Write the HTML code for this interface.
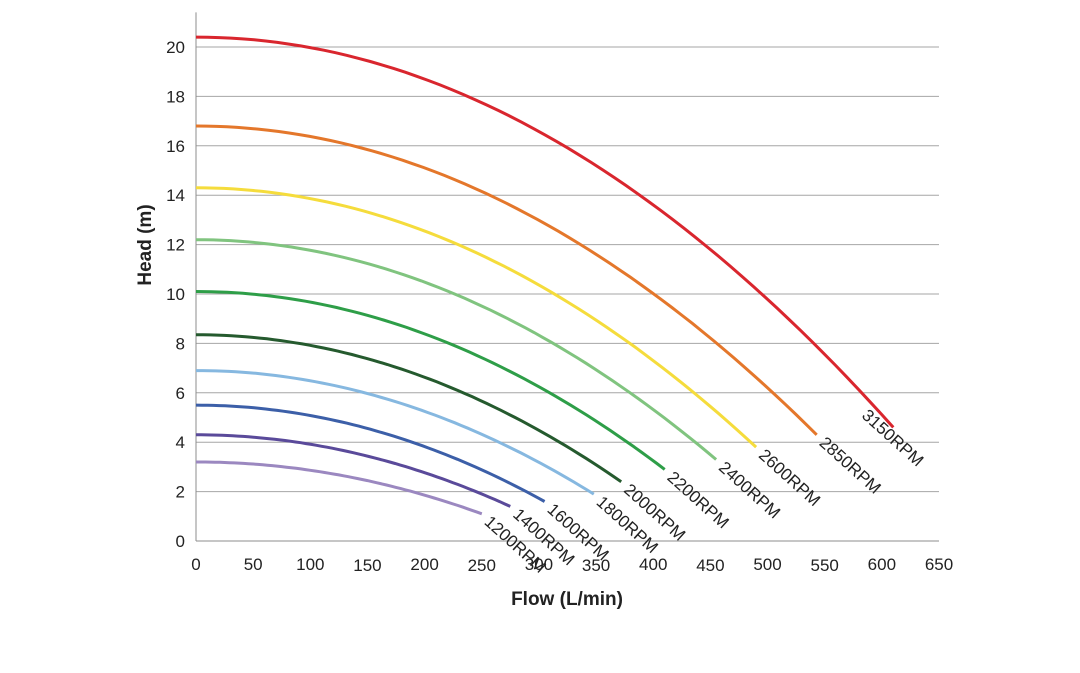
<!DOCTYPE html>
<html><head><meta charset="utf-8"><style>body{margin:0;background:#fff}svg{display:block}text{font-family:"Liberation Sans",sans-serif}</style></head>
<body>
<svg id="s" width="1080" height="673" xmlns="http://www.w3.org/2000/svg"></svg>
<script>
const s=document.getElementById('s');
const X=q=>196+q*743/650, Y=h=>541-h*24.7;
let o='';
for(let h=2;h<=20;h+=2)o+=`<line x1="196" x2="939" y1="${Y(h)}" y2="${Y(h)}" stroke="#a6a6a6" stroke-width="1"/>`;
o+=`<line x1="196" x2="939" y1="541" y2="541" stroke="#8c8c8c"/><line x1="196" x2="196" y1="${Y(21.4)}" y2="541" stroke="#8c8c8c"/>`;
for(let h=0;h<=20;h+=2)o+=`<text x="185" y="${Y(h)+6}" font-size="17" text-anchor="end" fill="#222">${h}</text>`;
for(let q=0;q<=650;q+=50)o+=`<text x="${X(q)}" y="${q%100==50&&q>=150&&q<=550?571:570}" font-size="17" text-anchor="middle" fill="#222">${q}</text>`;
o+=`<text x="567" y="605" font-size="19" font-weight="bold" text-anchor="middle" fill="#222">Flow (L/min)</text>`;
o+=`<text transform="translate(151,245) rotate(-90)" font-size="19" font-weight="bold" text-anchor="middle" fill="#222">Head (m)</text>`;
const c=[[3150,20.4,610,4.6,'#d9262e'],[2850,16.8,543,4.3,'#e4772b'],[2600,14.3,490,3.8,'#f5dc3c'],[2400,12.2,455,3.3,'#80c47f'],[2200,10.1,410,2.9,'#2e9e48'],[2000,8.35,372,2.4,'#255a2e'],[1800,6.9,348,1.9,'#86b8e0'],[1600,5.5,305,1.6,'#3c5fa8'],[1400,4.3,275,1.4,'#5a4a9a'],[1200,3.2,250,1.1,'#9b88c0']];
for(const [r,h0,qe,he,col] of c){
 const k=(h0-he)/(qe*qe);let p='';
 for(let i=0;i<=60;i++){const q=qe*i/60;p+=(i?'L':'M')+X(q).toFixed(1)+','+Y(h0-k*q*q).toFixed(1);}
 o+=`<path d="${p}" fill="none" stroke="${col}" stroke-width="3"/>`;
 let ex=X(qe)+11,ey=Y(he)-1;if(r==3150){ex-=34;ey-=20;}
 o+=`<text transform="translate(${ex},${ey}) rotate(42)" x="0" y="14" font-size="17" fill="#222">${r}RPM</text>`;
}
s.innerHTML=o;
</script>
</body></html>
